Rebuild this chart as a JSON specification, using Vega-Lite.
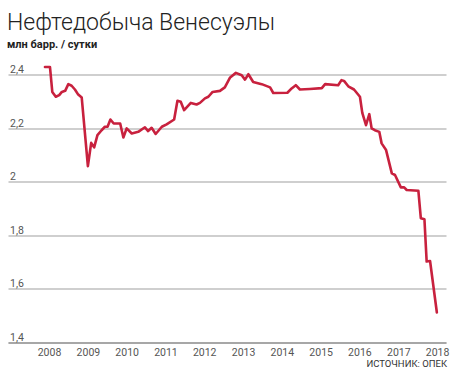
{
  "$schema": "https://vega.github.io/schema/vega-lite/v6.json",
  "autosize": "none",
  "width": 438,
  "height": 268,
  "padding": {"left": 8, "top": 74.5, "right": 8, "bottom": 37.5},
  "background": "white",
  "config": {"view": {"stroke": null}},
  "title": {
    "text": "Нефтедобыча Венесуэлы",
    "subtitle": "млн барр. / сутки",
    "anchor": "start",
    "frame": "group",
    "font": "Roboto",
    "fontSize": 23,
    "fontWeight": 300,
    "color": "#222222",
    "subtitleFont": "Roboto",
    "subtitleFontSize": 11,
    "subtitleFontWeight": "bold",
    "subtitleColor": "#222222",
    "subtitlePadding": 4,
    "offset": 10,
    "dx": -1,
    "dy": -4.5
  },
  "data": {
    "values": [
      {"date": "2007-11-24", "value": 2.428},
      {"date": "2008-01-10", "value": 2.428},
      {"date": "2008-02-01", "value": 2.335},
      {"date": "2008-03-05", "value": 2.317},
      {"date": "2008-04-06", "value": 2.323},
      {"date": "2008-05-01", "value": 2.335},
      {"date": "2008-06-01", "value": 2.339},
      {"date": "2008-07-01", "value": 2.364},
      {"date": "2008-08-01", "value": 2.358},
      {"date": "2008-09-01", "value": 2.344},
      {"date": "2008-10-02", "value": 2.325},
      {"date": "2008-11-04", "value": 2.314},
      {"date": "2009-01-01", "value": 2.058},
      {"date": "2009-02-01", "value": 2.145},
      {"date": "2009-03-01", "value": 2.128},
      {"date": "2009-04-01", "value": 2.174},
      {"date": "2009-05-10", "value": 2.192},
      {"date": "2009-06-10", "value": 2.205},
      {"date": "2009-07-05", "value": 2.205},
      {"date": "2009-08-01", "value": 2.232},
      {"date": "2009-09-01", "value": 2.217},
      {"date": "2009-11-01", "value": 2.217},
      {"date": "2009-12-01", "value": 2.165},
      {"date": "2010-01-01", "value": 2.199},
      {"date": "2010-02-18", "value": 2.18},
      {"date": "2010-04-20", "value": 2.186},
      {"date": "2010-06-22", "value": 2.203},
      {"date": "2010-07-22", "value": 2.189},
      {"date": "2010-08-24", "value": 2.201},
      {"date": "2010-10-01", "value": 2.178},
      {"date": "2010-11-28", "value": 2.205},
      {"date": "2011-01-12", "value": 2.214},
      {"date": "2011-03-24", "value": 2.232},
      {"date": "2011-04-24", "value": 2.302},
      {"date": "2011-05-25", "value": 2.298},
      {"date": "2011-06-26", "value": 2.267},
      {"date": "2011-08-28", "value": 2.294},
      {"date": "2011-10-21", "value": 2.288},
      {"date": "2011-11-22", "value": 2.294},
      {"date": "2012-01-08", "value": 2.311},
      {"date": "2012-02-09", "value": 2.317},
      {"date": "2012-03-20", "value": 2.335},
      {"date": "2012-05-28", "value": 2.339},
      {"date": "2012-07-13", "value": 2.352},
      {"date": "2012-09-01", "value": 2.389},
      {"date": "2012-10-25", "value": 2.406},
      {"date": "2012-12-19", "value": 2.397},
      {"date": "2013-01-19", "value": 2.381},
      {"date": "2013-02-20", "value": 2.401},
      {"date": "2013-04-06", "value": 2.372},
      {"date": "2013-06-25", "value": 2.364},
      {"date": "2013-09-12", "value": 2.352},
      {"date": "2013-10-12", "value": 2.331},
      {"date": "2014-02-22", "value": 2.332},
      {"date": "2014-04-03", "value": 2.348},
      {"date": "2014-05-12", "value": 2.36},
      {"date": "2014-06-20", "value": 2.344},
      {"date": "2014-09-21", "value": 2.346},
      {"date": "2015-01-12", "value": 2.349},
      {"date": "2015-02-12", "value": 2.364},
      {"date": "2015-06-15", "value": 2.36},
      {"date": "2015-07-16", "value": 2.379},
      {"date": "2015-08-09", "value": 2.376},
      {"date": "2015-09-18", "value": 2.356},
      {"date": "2015-11-11", "value": 2.344},
      {"date": "2016-01-06", "value": 2.317},
      {"date": "2016-01-28", "value": 2.257},
      {"date": "2016-03-03", "value": 2.211},
      {"date": "2016-04-03", "value": 2.252},
      {"date": "2016-04-25", "value": 2.199},
      {"date": "2016-05-25", "value": 2.192},
      {"date": "2016-07-06", "value": 2.186},
      {"date": "2016-07-28", "value": 2.143},
      {"date": "2016-09-08", "value": 2.118},
      {"date": "2016-11-01", "value": 2.031},
      {"date": "2016-12-01", "value": 2.025},
      {"date": "2017-01-25", "value": 1.979},
      {"date": "2017-02-25", "value": 1.979},
      {"date": "2017-03-21", "value": 1.969},
      {"date": "2017-07-09", "value": 1.966},
      {"date": "2017-08-01", "value": 1.864},
      {"date": "2017-09-04", "value": 1.86},
      {"date": "2017-09-25", "value": 1.702},
      {"date": "2017-10-27", "value": 1.704},
      {"date": "2017-12-30", "value": 1.512}
    ]
  },
  "mark": {"type": "line", "color": "#c8213e", "strokeWidth": 2.6, "strokeJoin": "round", "strokeCap": "round"},
  "encoding": {
    "x": {
      "field": "date",
      "type": "temporal",
      "scale": {
        "type": "utc",
        "domain": [
          {"year": 2006, "month": 12, "date": 11, "utc": true},
          {"year": 2018, "month": 3, "date": 26, "utc": true}
        ]
      },
      "axis": {
        "values": [
          {"year": 2008, "utc": true}, {"year": 2009, "utc": true}, {"year": 2010, "utc": true},
          {"year": 2011, "utc": true}, {"year": 2012, "utc": true}, {"year": 2013, "utc": true},
          {"year": 2014, "utc": true}, {"year": 2015, "utc": true}, {"year": 2016, "utc": true},
          {"year": 2017, "utc": true}, {"year": 2018, "utc": true}
        ],
        "labelExpr": "utcFormat(datum.value, '%Y')",
        "grid": false,
        "ticks": false,
        "tickSize": 0,
        "domain": true,
        "domainColor": "#808080",
        "domainWidth": 1.2,
        "labelFont": "Roboto",
        "labelFontSize": 10.5,
        "labelColor": "#555555",
        "labelBaseline": "middle",
        "labelPadding": 10,
        "labelFlush": false,
        "labelOverlap": false,
        "title": "ИСТОЧНИК: ОПЕК",
        "titleFont": "Roboto",
        "titleFontSize": 9.5,
        "titleFontWeight": "normal",
        "titleColor": "#333333",
        "titleAnchor": "end",
        "titleAlign": "right",
        "titleBaseline": "middle",
        "titleX": 438.5,
        "titleY": 20.5
      }
    },
    "y": {
      "field": "value",
      "type": "quantitative",
      "scale": {"domain": [1.4, 2.4], "zero": false, "nice": false},
      "axis": {
        "values": [1.4, 1.6, 1.8, 2.0, 2.2, 2.4],
        "labelExpr": "replace(format(datum.value, '~g'), '.', ',')",
        "grid": true,
        "gridColor": "#a0a0a0",
        "gridWidth": 1.2,
        "domain": false,
        "ticks": false,
        "tickSize": 0,
        "labelAlign": "left",
        "labelBaseline": "alphabetic",
        "labelPadding": -1.5,
        "labelOffset": -2,
        "labelFlush": false,
        "labelFont": "Roboto",
        "labelFontSize": 10.5,
        "labelColor": "#555555",
        "title": null
      }
    }
  }
}
